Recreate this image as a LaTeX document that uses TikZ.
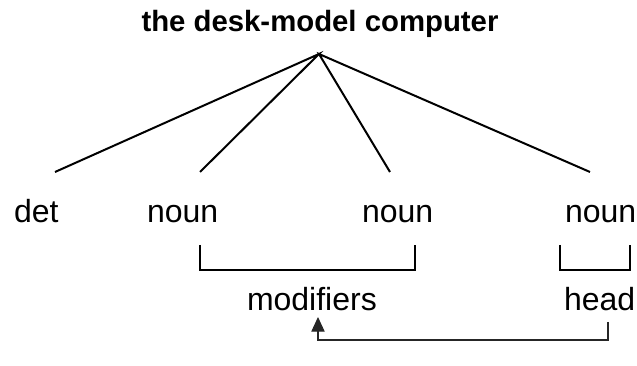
\documentclass[tikz,border=0pt]{standalone}
\usepackage{fontspec}
\setmainfont{Liberation Sans}
\usetikzlibrary{arrows.meta}

\tikzset{
  word/.style={anchor=base west, inner sep=0pt, font=\fontsize{24}{28}\selectfont},
  phrase/.style={anchor=base, inner sep=0pt, font=\bfseries\fontsize{22}{26}\selectfont},
  link/.style={line width=0.8pt, draw=black!85, -{Triangle[width=10pt,length=11pt]}}
}

\begin{document}
\begin{tikzpicture}[x=0.75pt,y=-0.75pt,line width=1.5pt]
            \useasboundingbox (0,0) rectangle (637,366);
            % phrase and its words
            \node [phrase] (np) at (320,32) {the desk-model computer};
            \node [word] (det) at (13,223) {det};
            \node [word] (n1) at (146,223) {noun};
            \node [word] (n2) at (361,223) {noun};
            \node [word] (n3) at (564,223) {noun};
            \node [word] (mod) at (246,311) {modifiers};
            \node [word] (head) at (563,311) {head};
            % branch points
            \coordinate (top) at (319,54);
            \coordinate (det-end) at (55,172);
            \coordinate (n1-end) at (200,172);
            \coordinate (n2-end) at (390,172);
            \coordinate (n3-end) at (590,172);
            \draw (det-end) -- (top) -- (n1-end);
            \draw (n2-end) -- (top) -- (n3-end);
            % brackets
            \coordinate (mod-l) at (200,245);
            \coordinate (mod-r) at (415,245);
            \coordinate (head-l) at (560,245);
            \coordinate (head-r) at (630,245);
            \draw (mod-l) -- ++(0,25) -| (mod-r);
            \draw (head-l) -- ++(0,25) -| (head-r);
            % head -> modifiers
            \coordinate (head-foot) at (608,322);
            \coordinate (mod-foot) at (318,317);
            \draw [link] (head-foot) -- ++(0,18) -| (mod-foot);
        \end{tikzpicture}
\end{document}
